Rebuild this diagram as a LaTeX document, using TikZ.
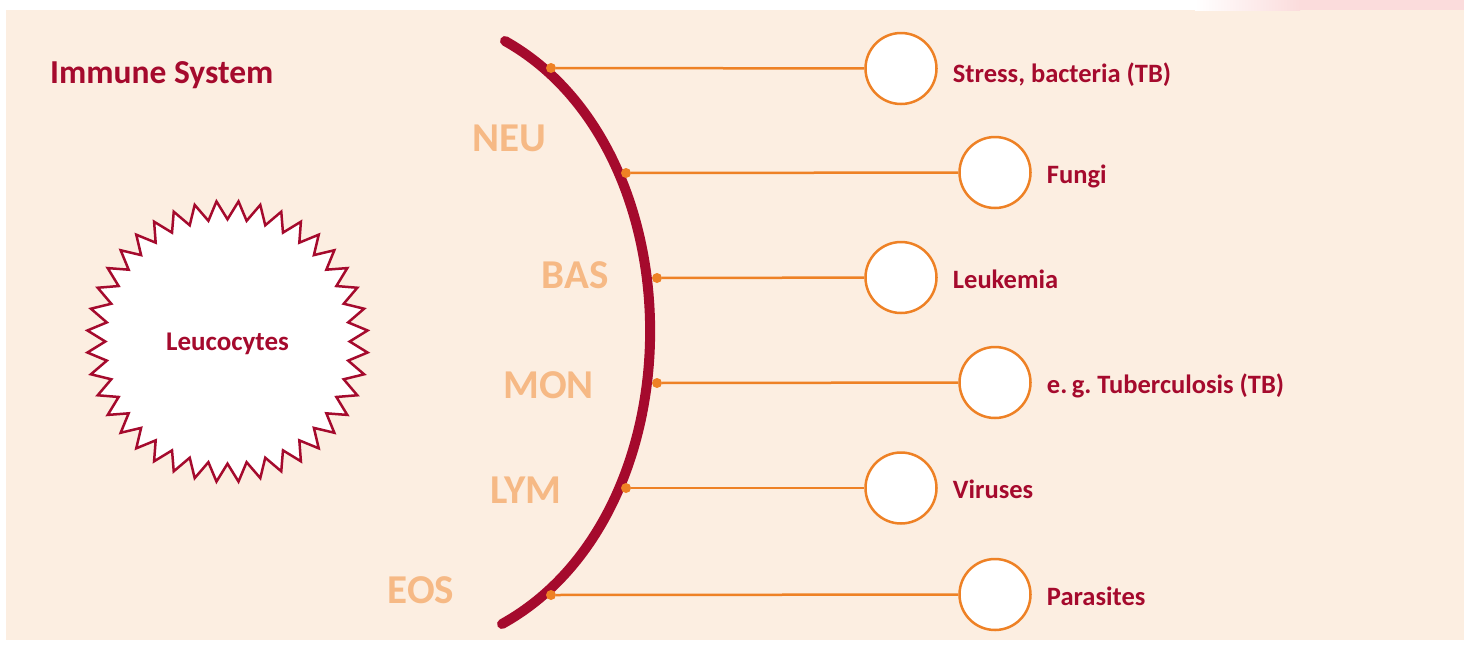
\documentclass[tikz,border=0pt]{standalone}
\usepackage{fontspec}
\setmainfont{Carlito}
\frenchspacing
\usetikzlibrary{shapes.geometric,positioning}
\definecolor{bgbeige}{HTML}{FCEEE1}
\definecolor{cellred}{HTML}{A50A2D}
\definecolor{lineorange}{HTML}{EE8125}
\definecolor{celltan}{HTML}{F6B985}
\definecolor{fadepink}{HTML}{FBDCDC}

\begin{document}
\begin{tikzpicture}[x=1pt,y=-1pt,
    tag/.style={font=\fontsize{26.5}{30}\selectfont\bfseries, text=cellred, anchor=base west, inner sep=0pt, yshift=-10.5pt},
    cell/.style={font=\fontsize{41}{48}\selectfont\bfseries, text=celltan, inner sep=0pt}]
    \useasboundingbox (0,0) rectangle (1464,646);
    % background
    \fill[bgbeige] (6,10) rectangle (1464,640);
    \shade[left color=white, right color=fadepink] (1195,0) rectangle (1300,10);
    \fill[fadepink] (1300,0) rectangle (1464,10);

    \node[anchor=base west, inner sep=0pt, text=cellred, font=\fontsize{33.5}{40}\selectfont\bfseries] (title) at (50,83) {Immune System};

    % leucocyte star
    \node[star, star points=40, star point ratio=1.15, shape border rotate=4.5,
          minimum size=281pt, inner sep=0pt, draw=cellred, line width=2.5pt, fill=white,
          text=cellred, text depth=0pt, font=\fontsize{27}{32}\selectfont\bfseries] (L) at (227.5,341.5) {Leucocytes};

    % the arc
    \coordinate (arcTop) at (505,41);
    \coordinate (arcBot) at (502,624);
    \draw[cellred, line width=10pt, line cap=round] (arcTop) .. controls (699,150) and (699,515) .. (arcBot);

    \node[cell] (NEU) at (509,138.5) {NEU};
    \node[cell] (BAS) at (575,275.5) {BAS};
    \node[cell] (MON) at (548.5,385) {MON};
    \node[cell] (LYM) at (526,489.7) {LYM};
    \node[cell] (EOS) at (421,589.7) {EOS};

    \begin{scope}[every node/.style={circle, draw=lineorange, line width=2.5pt, fill=white, minimum size=71pt, inner sep=0pt}]
        \node (A) at (901,68.5) {};
        \node (B) at (995,172.5) {};
        \node (C) at (901,277.5) {};
        \node (D) at (995,382.5) {};
        \node (E) at (901,488) {};
        \node (F) at (995,594.5) {};
    \end{scope}
    \begin{scope}[every node/.style={circle, fill=lineorange, minimum size=10pt, inner sep=0pt}]
        \node (A1) at (551,68) {};
        \node (B1) at (626,173) {};
        \node (C1) at (657,278) {};
        \node (D1) at (657,383) {};
        \node (E1) at (626,488) {};
        \node (F1) at (551,595) {};
    \end{scope}
    \begin{scope}[every edge/.style={draw=lineorange, line width=2.5pt}]
        \draw (A1) edge (A);
        \draw (B1) edge (B);
        \draw (C1) edge (C);
        \draw (D1) edge (D);
        \draw (E1) edge (E);
        \draw (F1) edge (F);
    \end{scope}

    \node[right=15pt of A.east, tag, yshift=-3pt] (tA) {Stress, bacteria (TB)};
    \node[right=15pt of B.east, tag] (tB) {Fungi};
    \node[right=15pt of C.east, tag] (tC) {Leukemia};
    \node[right=15pt of D.east, tag] (tD) {e.\,g. Tuberculosis (TB)};
    \node[right=15pt of E.east, tag] (tE) {Viruses};
    \node[right=15pt of F.east, tag] (tF) {Parasites};
\end{tikzpicture}
\end{document}
